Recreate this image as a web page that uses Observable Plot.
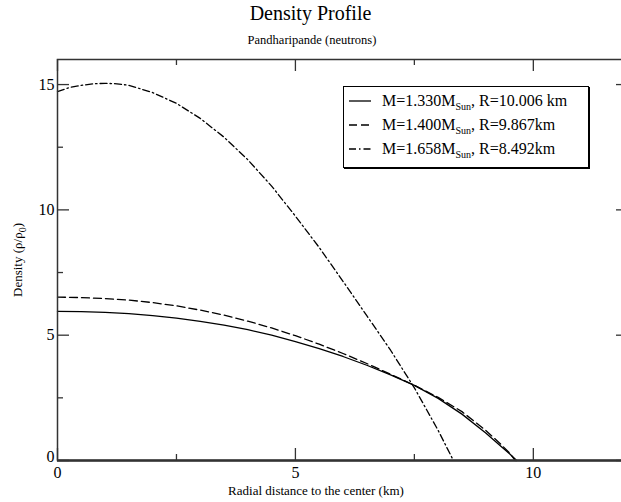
<!DOCTYPE html>
<html>
<head>
<meta charset="utf-8">
<script src="https://cdn.jsdelivr.net/npm/d3@7"></script>
<script src="https://cdn.jsdelivr.net/npm/@observablehq/plot@0.6"></script>
<style>
html, body { margin:0; padding:0; background:#fff; overflow:hidden; }
#wrap { position:relative; width:621px; height:502px; font-family:"Liberation Serif", serif; color:#000; }
#wrap > svg { position:absolute; left:0; top:0; }
.abs { position:absolute; white-space:nowrap; }
#title { left:0; width:621px; top:2px; text-align:center; font-size:20px; }
#subtitle { left:0; width:624px; top:33px; text-align:center; font-size:12.5px; }
#xlabel { left:0; width:632px; top:483px; text-align:center; font-size:13px; }
#ylabel { top:260px; left:18px; font-size:13px; transform:translate(-50%,-50%) rotate(-90deg); transform-origin:50% 50%; }
#legend { left:343px; top:86px; width:244px; height:80px; border:1px solid #000; box-shadow:1px 1px 0 #000; background:#fff; font-size:16px; }
.row { position:absolute; left:4px; height:20px; display:flex; align-items:center; }
.row svg { display:block; margin-right:10px; }
sub { font-size:10px; vertical-align:-4px; line-height:0; }
</style>
</head>
<body>
<div id="wrap">
  <div id="title" class="abs">Density Profile</div>
  <div id="subtitle" class="abs">Pandharipande (neutrons)</div>
  <div id="xlabel" class="abs">Radial distance to the center (km)</div>
  <div id="ylabel" class="abs">Density (ρ/ρ<sub>0</sub>)</div>
</div>
<script>
// Series data (radius in km, density in units of rho_0)
const rA = [0, 0.5, 1, 1.5, 2, 2.5, 3, 3.5, 4, 4.5, 5, 5.5, 6, 6.5, 7, 7.5, 8, 8.5, 9, 9.3, 9.5, 9.65];
const rhoA = [5.95, 5.94, 5.91, 5.86, 5.78, 5.68, 5.55, 5.40, 5.22, 5.00, 4.74, 4.46, 4.15, 3.80, 3.42, 3.0, 2.48, 1.85, 1.1, 0.6, 0.27, 0];

const rB = [0, 0.5, 1, 1.5, 2, 2.5, 3, 3.5, 4, 4.5, 5, 5.5, 6, 6.5, 7, 7.5, 8, 8.5, 9, 9.3, 9.5, 9.62];
const rhoB = [6.52, 6.50, 6.46, 6.40, 6.30, 6.17, 6.00, 5.80, 5.56, 5.29, 4.98, 4.64, 4.27, 3.87, 3.44, 3.0, 2.52, 1.95, 1.2, 0.68, 0.3, 0];

const rC = [0, 0.25, 0.5, 0.75, 1, 1.25, 1.5, 2, 2.5, 3, 3.5, 4, 4.5, 5, 5.5, 6, 6.5, 7, 7.5, 8, 8.32];
const rhoC = [14.72, 14.88, 14.97, 15.03, 15.05, 15.03, 14.97, 14.68, 14.25, 13.65, 12.9, 12.0, 10.95, 9.75, 8.5, 7.15, 5.78, 4.4, 2.9, 1.2, 0];

const legendMass = ["1.330", "1.400", "1.658"];
const legendRadius = ["10.006 km", "9.867km", "8.492km"];
const dashes = [null, "8,4", "7,3,1.5,3"];

const xMajor = [0, 5, 10];
const xMinor = [2.5, 7.5];
const yMajor = [0, 5, 10, 15];
const yMinor = [2.5, 7.5, 12.5];

const toRows = (r, rho) => r.map((d, i) => ({r: d, rho: rho[i]}));
const seriesA = toRows(rA, rhoA), seriesB = toRows(rB, rhoB), seriesC = toRows(rC, rhoC);

const W = 621, H = 502, mL = 57, mR = -7, mT = 59, mB = 42;
const pw = W - mL - mR, ph = H - mT - mB;
const axisColor = "#333";

const chart = Plot.plot({
  width: W, height: H,
  marginLeft: mL, marginRight: mR, marginTop: mT, marginBottom: mB,
  x: {domain: [0, 12]},
  y: {domain: [0, 16]},
  style: {fontFamily: "Liberation Serif", fontSize: "16px", color: "#000", background: "transparent", overflow: "visible"},
  marks: [
    Plot.line(seriesA, {x: "r", y: "rho", stroke: "#000", strokeWidth: 1.3}),
    Plot.line(seriesB, {x: "r", y: "rho", stroke: "#000", strokeWidth: 1.3, strokeDasharray: dashes[1]}),
    Plot.line(seriesC, {x: "r", y: "rho", stroke: "#000", strokeWidth: 1.3, strokeDasharray: dashes[2]}),
    Plot.frame({stroke: axisColor, strokeWidth: 1.5}),
    Plot.ruleY([0], {stroke: axisColor, strokeWidth: 2.5}),
    // inward ticks bottom/top
    Plot.tickX(xMajor, {x: d => d, insetTop: ph - 12, stroke: axisColor, strokeWidth: 1.3}),
    Plot.tickX(xMinor, {x: d => d, insetTop: ph - 6, stroke: axisColor, strokeWidth: 1.3}),
    Plot.tickX(xMajor, {x: d => d, insetBottom: ph - 12, stroke: axisColor, strokeWidth: 1.3}),
    Plot.tickX(xMinor, {x: d => d, insetBottom: ph - 6, stroke: axisColor, strokeWidth: 1.3}),
    // inward ticks left/right
    Plot.tickY(yMajor, {y: d => d, insetRight: pw - 12, stroke: axisColor, strokeWidth: 1.3}),
    Plot.tickY(yMinor, {y: d => d, insetRight: pw - 6, stroke: axisColor, strokeWidth: 1.3}),
    Plot.tickY(yMajor, {y: d => d, insetLeft: pw - 12, stroke: axisColor, strokeWidth: 1.3}),
    Plot.tickY(yMinor, {y: d => d, insetLeft: pw - 6, stroke: axisColor, strokeWidth: 1.3}),
    Plot.axisX({ticks: xMajor, tickSize: 0, tickPadding: 6, label: null, tickFormat: d => d}),
    Plot.axisY({ticks: yMajor.filter(d => d > 0), tickSize: 0, tickPadding: 3, label: null, tickFormat: d => d}),
    Plot.axisY({ticks: [0], tickSize: 0, tickPadding: 3, label: null, tickFormat: d => d, dy: -4})
  ]
});
const wrap = document.getElementById("wrap");
wrap.insertBefore(chart, wrap.firstChild);

// Legend
const leg = document.createElement("div");
leg.id = "legend"; leg.className = "abs";
legendMass.forEach((m, i) => {
  const row = document.createElement("div");
  row.className = "row";
  row.style.top = (4 + i * 24) + "px";
  const dash = dashes[i] ? ` stroke-dasharray="${dashes[i]}"` : "";
  row.innerHTML = `<svg width="24" height="10"><line x1="1" y1="5" x2="23" y2="5" stroke="#000" stroke-width="1.3"${dash}/></svg>` +
    `<span>M=${m}M<sub>Sun</sub>, R=${legendRadius[i]}</span>`;
  leg.appendChild(row);
});
wrap.appendChild(leg);
</script>
</body>
</html>
